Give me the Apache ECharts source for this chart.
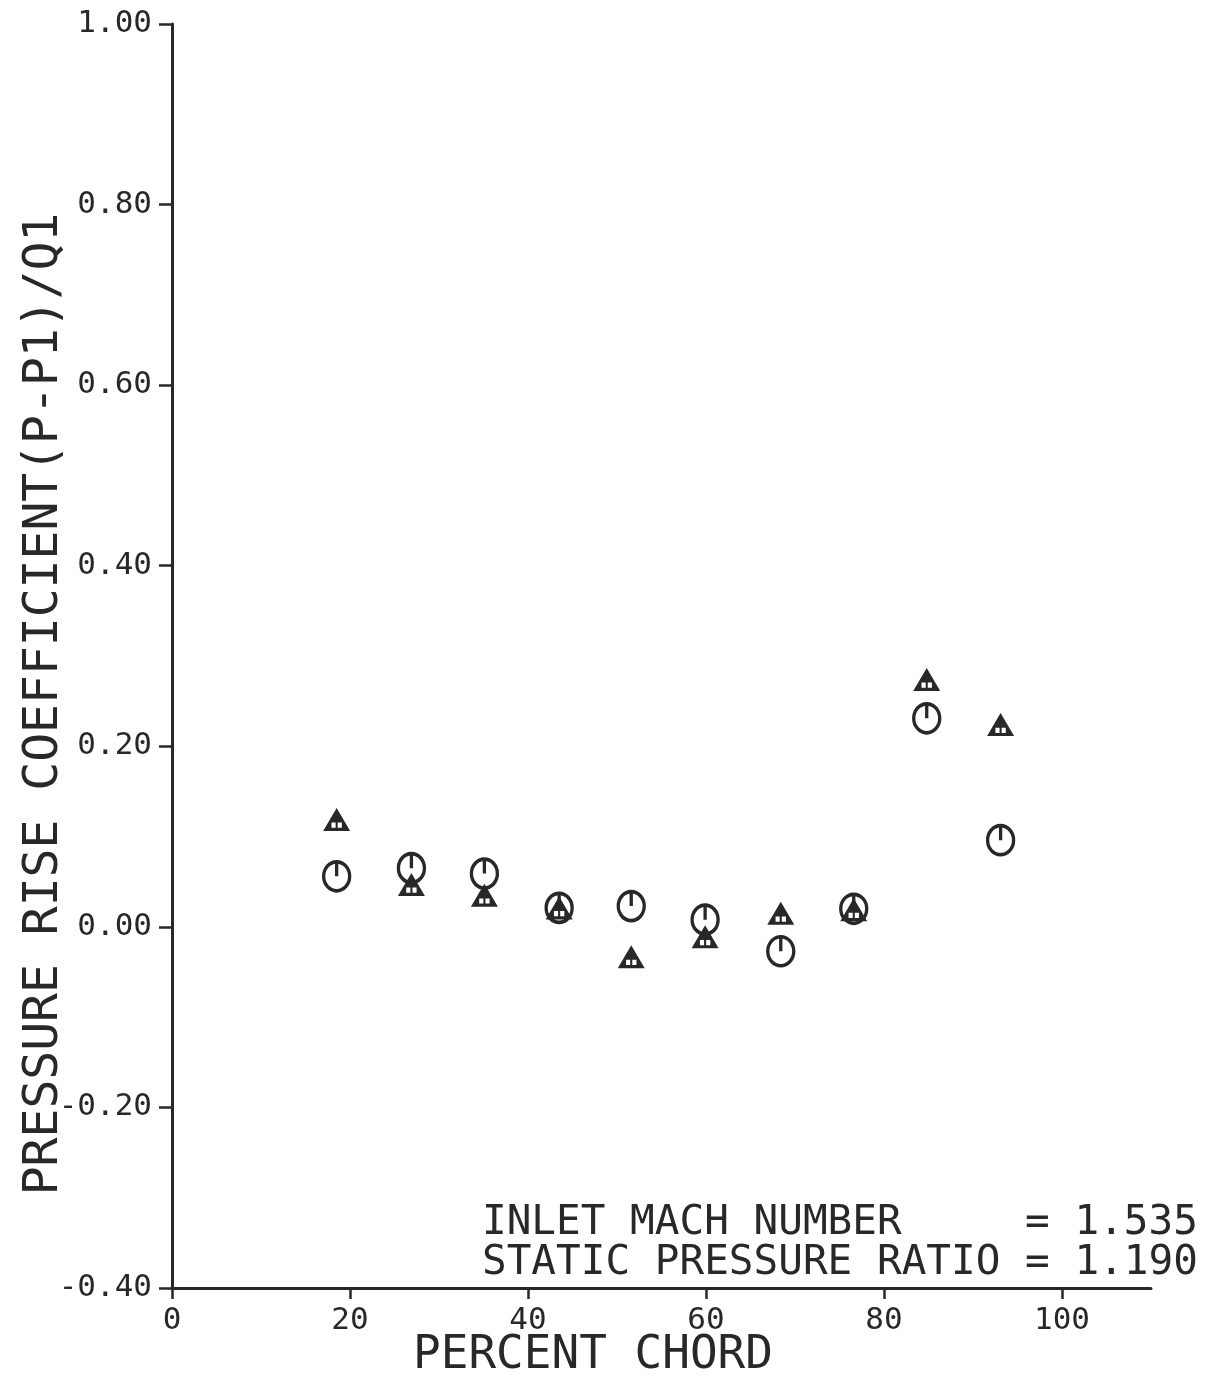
<!DOCTYPE html>
<html>
<head>
<meta charset="utf-8">
<script src="https://cdn.jsdelivr.net/npm/echarts@6/dist/echarts.min.js"></script>
<style>
html,body{margin:0;padding:0;background:#fff;}
#chart{width:1230px;height:1382px;}
</style>
</head>
<body>
<div id="chart"></div>
<script>
// ---- data ----
const chordPercent = [18.5, 26.9, 35.1, 43.5, 51.6, 59.9, 68.4, 76.6, 84.8, 93.1];
const circleValues = [0.056, 0.065, 0.059, 0.021, 0.023, 0.008, -0.027, 0.020, 0.231, 0.096];
const triangleValues = [0.119, 0.047, 0.035, 0.021, -0.033, -0.011, 0.015, 0.019, 0.274, 0.224];
const xTickValues = [0, 20, 40, 60, 80, 100];
const xTitle = 'PERCENT CHORD';
const yTitle = 'PRESSURE RISE COEFFICIENT(P-P1)/Q1';
const noteLines = ['INLET MACH NUMBER     = 1.535', 'STATIC PRESSURE RATIO = 1.190'];

const INK = '#282828';
const FONT = '"DejaVu Sans Mono", "Liberation Mono", monospace';

const circlePath = 'path://M0,-10 A10,10 0 1 1 0,10 A10,10 0 1 1 0,-10 Z M0,-10 L0,0';
const trianglePath = 'path://M0,-11 L13,11 L-13,11 Z M-5,3 L-5,8 L-1,8 L-1,3 Z M1,3 L1,8 L5,8 L5,3 Z';

const chart = echarts.init(document.getElementById('chart'), null, {renderer: 'canvas'});
chart.setOption({
  backgroundColor: '#ffffff',
  animation: false,
  grid: {left: 172, right: 79, top: 24, bottom: 94, containLabel: false},
  xAxis: {
    type: 'value', min: 0, max: 110, interval: 20,
    axisLine: {show: true, onZero: false, lineStyle: {color: INK, width: 3}},
    axisTick: {show: true, inside: false, length: 11, customValues: xTickValues, lineStyle: {color: INK, width: 2.5}},
    axisLabel: {show: true, customValues: xTickValues, margin: 17, color: INK, fontFamily: FONT, fontSize: 31,
      formatter: v => String(v)},
    splitLine: {show: false}
  },
  yAxis: {
    type: 'value', min: -0.4, max: 1.0, interval: 0.2,
    axisLine: {show: true, onZero: false, lineStyle: {color: INK, width: 3}},
    axisTick: {show: true, inside: false, length: 13, lineStyle: {color: INK, width: 2.5}},
    axisLabel: {show: true, margin: 20, color: INK, fontFamily: FONT, fontSize: 31,
      formatter: v => (Math.abs(v) < 1e-9 ? 0 : v).toFixed(2)},
    splitLine: {show: false}
  },
  graphic: [
    {type: 'text', left: 482, top: 1203, style: {text: noteLines[0], font: '41px ' + FONT, fill: INK}},
    {type: 'text', left: 482, top: 1243, style: {text: noteLines[1], font: '41px ' + FONT, fill: INK}},
    {type: 'text', x: 593, y: 1356, style: {text: xTitle, font: '46px ' + FONT, fill: INK, align: 'center', verticalAlign: 'middle'}},
    {type: 'text', x: 45, y: 704, rotation: Math.PI / 2, style: {text: yTitle, font: '48px ' + FONT, fill: INK, align: 'center', verticalAlign: 'middle'}}
  ],
  series: [
    {
      type: 'scatter', name: 'triangle',
      data: chordPercent.map((x, i) => [x, triangleValues[i]]),
      symbol: trianglePath, symbolSize: [27, 23],
      itemStyle: {color: INK, opacity: 1}
    },
    {
      type: 'scatter', name: 'circle',
      data: chordPercent.map((x, i) => [x, circleValues[i]]),
      symbol: circlePath, symbolSize: [26, 29],
      itemStyle: {color: 'rgba(0,0,0,0)', borderColor: INK, borderWidth: 3.5, opacity: 1}
    }
  ]
});
</script>
</body>
</html>
